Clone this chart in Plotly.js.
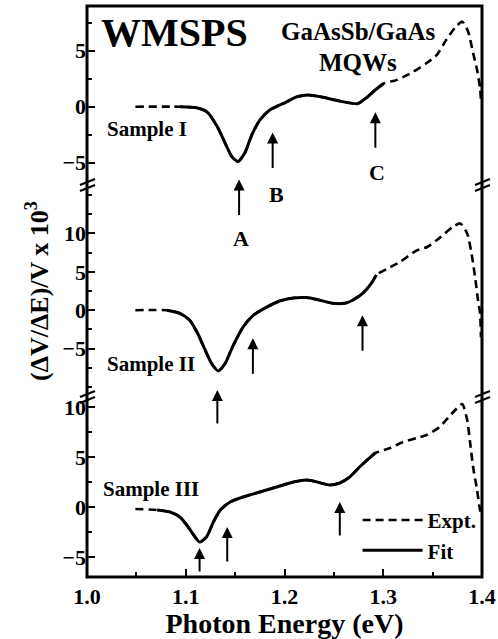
<!DOCTYPE html>
<html>
<head>
<meta charset="utf-8">
<script src="https://cdn.plot.ly/plotly-3.0.1.min.js"></script>
<style>html,body{margin:0;padding:0;background:#fff;}#chart{width:498px;height:639px;}</style>
</head>
<body>
<div id="chart"></div>
<script>
// ---------- Sample I ----------
const exptE_I = [1.049, 1.094, 1.111, 1.122, 1.132, 1.138, 1.147, 1.153, 1.160, 1.167, 1.175, 1.185, 1.199, 1.213, 1.224, 1.236, 1.256, 1.274, 1.283, 1.292, 1.300, 1.314, 1.330, 1.344, 1.354, 1.364, 1.373, 1.380, 1.386, 1.391, 1.395, 1.398, 1.399];
const exptV_I = [0, 0, -0.1, -0.5, -1.8, -2.9, -4.5, -4.9, -4.1, -2.5, -1.2, -0.3, 0.3, 0.9, 1.05, 0.9, 0.5, 0.27, 0.8, 1.5, 2.05, 2.4, 3.1, 3.9, 4.6, 6.0, 7.1, 7.6, 6.7, 4.8, 3.3, 1.7, 0.5];
const fitE_I = [1.094, 1.111, 1.122, 1.132, 1.138, 1.147, 1.153, 1.160, 1.167, 1.175, 1.185, 1.199, 1.213, 1.224, 1.236, 1.256, 1.274, 1.283, 1.292, 1.300];
const fitV_I = [0, -0.1, -0.5, -1.8, -2.9, -4.5, -4.9, -4.1, -2.5, -1.2, -0.3, 0.3, 0.9, 1.05, 0.9, 0.5, 0.27, 0.8, 1.5, 2.05];
const arrowE_I = [1.154, 1.188, 1.292];
const arrowV_I = [-6.5, -2.3, -0.5];

// ---------- Sample II ----------
const exptE_II = [1.049, 1.081, 1.094, 1.104, 1.112, 1.119, 1.126, 1.133, 1.140, 1.148, 1.158, 1.168, 1.182, 1.195, 1.209, 1.222, 1.233, 1.249, 1.261, 1.269, 1.280, 1.289, 1.293, 1.304, 1.317, 1.334, 1.344, 1.357, 1.371, 1.378, 1.385, 1.390, 1.393, 1.396, 1.398, 1.399];
const exptV_II = [0, 0, -0.4, -1.3, -3.0, -5.0, -6.9, -7.9, -6.9, -4.6, -2.2, -0.7, 0.4, 1.2, 1.6, 1.65, 1.4, 0.9, 0.9, 1.3, 2.3, 3.7, 4.6, 5.4, 6.3, 7.8, 8.2, 9.4, 10.9, 11.3, 10.0, 6.9, 4.3, 1.3, -0.4, -3.5];
const fitE_II = [1.081, 1.094, 1.104, 1.112, 1.119, 1.126, 1.133, 1.140, 1.148, 1.158, 1.168, 1.182, 1.195, 1.209, 1.222, 1.233, 1.249, 1.261, 1.269, 1.280, 1.289, 1.293];
const fitV_II = [0, -0.4, -1.3, -3.0, -5.0, -6.9, -7.9, -6.9, -4.6, -2.2, -0.7, 0.4, 1.2, 1.6, 1.65, 1.4, 0.9, 0.9, 1.3, 2.3, 3.7, 4.6];
const arrowE_II = [1.132, 1.168, 1.279];
const arrowV_II = [-10.4, -3.65, -0.65];

// ---------- Sample III ----------
const exptE_III = [1.049, 1.071, 1.084, 1.094, 1.101, 1.108, 1.114, 1.121, 1.128, 1.135, 1.145, 1.158, 1.175, 1.192, 1.209, 1.222, 1.229, 1.246, 1.256, 1.266, 1.276, 1.287, 1.292, 1.307, 1.320, 1.334, 1.344, 1.357, 1.371, 1.380, 1.385, 1.388, 1.391, 1.395, 1.398, 1.399];
const exptV_III = [-0.2, -0.3, -0.5, -1.0, -1.8, -2.8, -3.5, -3.0, -1.5, -0.3, 0.5, 1.0, 1.5, 2.0, 2.5, 2.7, 2.6, 2.2, 2.4, 3.0, 4.0, 5.0, 5.4, 5.9, 6.5, 6.9, 7.2, 8.0, 9.5, 10.3, 8.7, 6.4, 4.0, 1.7, -0.3, -0.6];
const fitE_III = [1.071, 1.084, 1.094, 1.101, 1.108, 1.114, 1.121, 1.128, 1.135, 1.145, 1.158, 1.175, 1.192, 1.209, 1.222, 1.229, 1.246, 1.256, 1.266, 1.276, 1.287, 1.292];
const fitV_III = [-0.3, -0.5, -1.0, -1.8, -2.8, -3.5, -3.0, -1.5, -0.3, 0.5, 1.0, 1.5, 2.0, 2.5, 2.7, 2.6, 2.2, 2.4, 3.0, 4.0, 5.0, 5.4];
const arrowE_III = [1.114, 1.142, 1.256];
const arrowV_III = [-4.1, -2.0, 0.5];

const sampleNames = ['Sample I', 'Sample II', 'Sample III'];
const peakLabels = ['A', 'B', 'C'];
const xTickVals = [1.0, 1.1, 1.2, 1.3, 1.4];

const FONT = 'Liberation Serif, Times New Roman, serif';
const samples = [
  {ex: exptE_I, ev: exptV_I, fx: fitE_I, fv: fitV_I, ax: arrowE_I, av: arrowV_I, yaxis: 'y'},
  {ex: exptE_II, ev: exptV_II, fx: fitE_II, fv: fitV_II, ax: arrowE_II, av: arrowV_II, yaxis: 'y2'},
  {ex: exptE_III, ev: exptV_III, fx: fitE_III, fv: fitV_III, ax: arrowE_III, av: arrowV_III, yaxis: 'y3'}
];
const arrowTail = [[37, 37, 37], [35, 37, 37], [25, 36, 35]];

const traces = [];
samples.forEach((s, i) => {
  traces.push({x: s.ex, y: s.ev, xaxis: 'x', yaxis: s.yaxis, type: 'scatter', mode: 'lines',
    name: 'Expt.', showlegend: i === 2, legendrank: 1,
    line: {color: '#000', width: 2.6, dash: '8px,5px', shape: 'spline', smoothing: 0.6}});
});
samples.forEach((s, i) => {
  traces.push({x: s.fx, y: s.fv, xaxis: 'x', yaxis: s.yaxis, type: 'scatter', mode: 'lines',
    name: 'Fit', showlegend: i === 2, legendrank: 2,
    line: {color: '#000', width: 3, shape: 'spline', smoothing: 0.6}});
});

const annotations = [];
samples.forEach((s, i) => {
  s.ax.forEach((e, j) => {
    annotations.push({x: e, y: s.av[j], xref: 'x', yref: s.yaxis, text: '', showarrow: true,
      ax: 0, ay: arrowTail[i][j], arrowhead: 2, arrowsize: 1.1, arrowwidth: 2, arrowcolor: '#000'});
  });
});
const txt = (text, x, y, size, xanchor) => ({text: text, x: x, y: y, xref: 'paper', yref: 'paper',
  showarrow: false, xanchor: xanchor || 'center', yanchor: 'middle',
  font: {family: FONT, size: size, color: '#000', weight: 'bold'}});
annotations.push(txt('WMSPS', 0.030, 0.953, 40, 'left'));
annotations.push(txt('GaAsSb/GaAs', 0.686, 0.956, 25));
annotations.push(txt('MQWs', 0.686, 0.901, 25));
annotations.push(txt(sampleNames[0], 0.045, 0.784, 21, 'left'));
annotations.push(txt(sampleNames[1], 0.045, 0.373, 21, 'left'));
annotations.push(txt(sampleNames[2], 0.036, 0.154, 21, 'left'));
annotations.push(txt(peakLabels[0], 0.391, 0.592, 22));
annotations.push(txt(peakLabels[1], 0.481, 0.670, 22));
annotations.push(txt(peakLabels[2], 0.734, 0.708, 22));

const tickFont = {family: FONT, size: 22, color: '#000', weight: 'bold'};
const yCommon = {anchor: 'x', showgrid: false, zeroline: false, showline: false,
  ticks: 'inside', ticklen: 8, tickwidth: 2, tickcolor: '#000', tickfont: tickFont,
  minor: {dtick: 2.5, ticks: 'inside', ticklen: 5, tickwidth: 2, tickcolor: '#000'},
  fixedrange: true};

function breakMark(xpaper, ypaper) {
  return [-3, 3].map(off => ({type: 'line', xref: 'paper', yref: 'paper',
    xsizemode: 'pixel', ysizemode: 'pixel', xanchor: xpaper, yanchor: ypaper,
    x0: -7, x1: 8, y0: -3 + off, y1: 3 + off, line: {color: '#000', width: 2.2}}));
}
const shapes = [
  {type: 'rect', xref: 'paper', yref: 'paper', x0: 0, x1: 1, y0: 0, y1: 1, line: {color: '#000', width: 3}},
  ...breakMark(0, 0.6865), ...breakMark(1, 0.6865), ...breakMark(0, 0.3152), ...breakMark(1, 0.3152)
];

const layout = {
  width: 498, height: 639,
  margin: {l: 87, r: 16, t: 6, b: 62},
  paper_bgcolor: '#fff', plot_bgcolor: '#fff',
  font: {family: FONT, color: '#000'},
  showlegend: true,
  legend: {x: 0.685, y: 0.135, xanchor: 'left', yanchor: 'top', bgcolor: 'rgba(0,0,0,0)',
    font: {family: FONT, size: 21, color: '#000', weight: 'bold'}, tracegroupgap: 0, itemwidth: 60},
  xaxis: {anchor: 'y3', domain: [0, 1], range: [1.0, 1.4], tickvals: xTickVals, tickformat: '.1f',
    showgrid: false, zeroline: false, showline: false,
    ticks: 'inside', ticklen: 8, tickwidth: 2, tickcolor: '#000', tickfont: tickFont, ticklabelstandoff: 4,
    minor: {dtick: 0.05, tick0: 1.0, ticks: 'inside', ticklen: 5, tickwidth: 2, tickcolor: '#000'},
    title: {text: 'Photon Energy (eV)', font: {family: FONT, size: 28, color: '#000', weight: 'bold'}, standoff: 9},
    fixedrange: true},
  yaxis: Object.assign({}, yCommon, {domain: [0.6865, 1], range: [-7, 9], tickvals: [-5, 0, 5]}),
  yaxis2: Object.assign({}, yCommon, {domain: [0.3152, 0.6865], range: [-11.3, 16.3], tickvals: [-5, 0, 5, 10],
    title: {text: '(ΔV/ΔE)/V x 10<sup>3</sup>', font: {family: FONT, size: 26, color: '#000', weight: 'bold'}, standoff: 6}}),
  yaxis3: Object.assign({}, yCommon, {domain: [0, 0.3152], range: [-7, 11], tickvals: [-5, 0, 5, 10]}),
  annotations: annotations,
  shapes: shapes
};

Plotly.newPlot('chart', traces, layout, {displayModeBar: false, staticPlot: true});
</script>
</body>
</html>
